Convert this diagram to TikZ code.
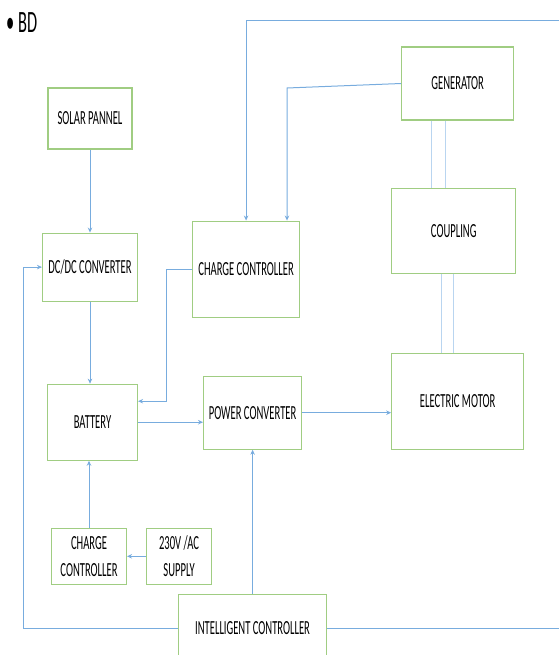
\documentclass[tikz,border=0pt]{standalone}
\usepackage{fontspec}
\setmainfont[FakeStretch=0.53]{Carlito}
\usetikzlibrary{arrows.meta,positioning}
\definecolor{boxgreen}{RGB}{160,205,130}
\definecolor{linkblue}{RGB}{120,172,222}
\definecolor{pairblue}{RGB}{185,213,240}
\tikzset{
  block/.style={draw=boxgreen, line width=1.1pt, fill=white, inner sep=2pt, align=center,
    font=\fontsize{20}{27}\selectfont},
  link/.style={draw=linkblue, line width=1pt, ->},
  pair/.style={draw=pairblue, line width=1pt}
}

\begin{document}
\begin{tikzpicture}[x=1pt, y=-1pt, >={Stealth[length=5pt,width=4.5pt]}]
  \useasboundingbox (0,0) rectangle (559,655);
  \clip (0,0) rectangle (559,655);

  \node[anchor=base west, inner sep=0pt, font=\fontsize{31}{33}\selectfont] (title) at (6,33) {\textbullet\ BD};

  \node[block, minimum width=84pt, minimum height=61pt] (solar) at (90,118.5) {SOLAR PANNEL};
  \node[block, minimum width=95pt, minimum height=68pt] (dcdc) [below=83pt of solar] {DC/DC CONVERTER};
  \node[block, minimum width=90pt, minimum height=76pt] (batt) [below=82pt of dcdc, xshift=2.5pt] {BATTERY};
  \node[block, minimum width=75pt, minimum height=56pt] (cc2) [below=67pt of batt, xshift=-3.5pt] {CHARGE\\CONTROLLER};
  \node[block, minimum width=65pt, minimum height=56pt] (ac) [right=19pt of cc2] {230V /AC\\SUPPLY};
  \node[block, minimum width=107pt, minimum height=96pt] (cc1) [right=54pt of dcdc, yshift=-2pt] {CHARGE CONTROLLER};
  \node[block, minimum width=98pt, minimum height=73pt] (pconv) [right=65pt of batt, yshift=9.5pt] {POWER CONVERTER};
  \node[block, minimum width=132pt, minimum height=96pt] (motor) [right=89pt of pconv, yshift=11.5pt] {ELECTRIC MOTOR};
  \node[block, minimum width=124pt, minimum height=85pt] (coup) [above=79pt of motor, xshift=-4pt] {COUPLING};
  \node[block, minimum width=112pt, minimum height=73pt] (gen) [above=67pt of coup, xshift=4pt] {GENERATOR};
  \node[block, minimum width=148pt, minimum height=68pt] (ic) [below=144pt of pconv] {INTELLIGENT CONTROLLER};

  \coordinate (topright) at (559,21);
  \coordinate (genbend) at (287,88);
  \coordinate (icright) at (559,624);

  \draw[link] (solar.south) -- (solar.south |- dcdc.north);
  \draw[link] (dcdc.south) -- (dcdc.south |- batt.north);
  \draw[link] (topright) -| (cc1.north);
  \draw[link] (gen.west) -- (genbend) -- (genbend |- cc1.north);
  \draw[link] (cc1.west) -- ++(-26,0) |- ([yshift=21pt]batt.east);
  \draw[link] (batt.east) -- (batt.east -| pconv.west);
  \draw[link] (pconv.east) -- (pconv.east -| motor.west);
  \draw[link] (cc2.north) -- (cc2.north |- batt.south);
  \draw[link] (ac.west) -- (cc2.east);
  \draw[link] (ic.north) -- (pconv.south);
  \draw[link] (ic.west) -- ++(-155,0) |- (dcdc.west);
  \draw[link, -] (ic.east) -- (ic.east -| icright);

  \draw[pair] ([xshift=-26pt]gen.south) -- ([xshift=-26pt]gen.south |- coup.north);
  \draw[pair] ([xshift=-12pt]gen.south) -- ([xshift=-12pt]gen.south |- coup.north);
  \draw[pair] ([xshift=-12pt]coup.south) -- ([xshift=-12pt]coup.south |- motor.north);
  \draw[pair] (coup.south) -- (coup.south |- motor.north);
\end{tikzpicture}
\end{document}
